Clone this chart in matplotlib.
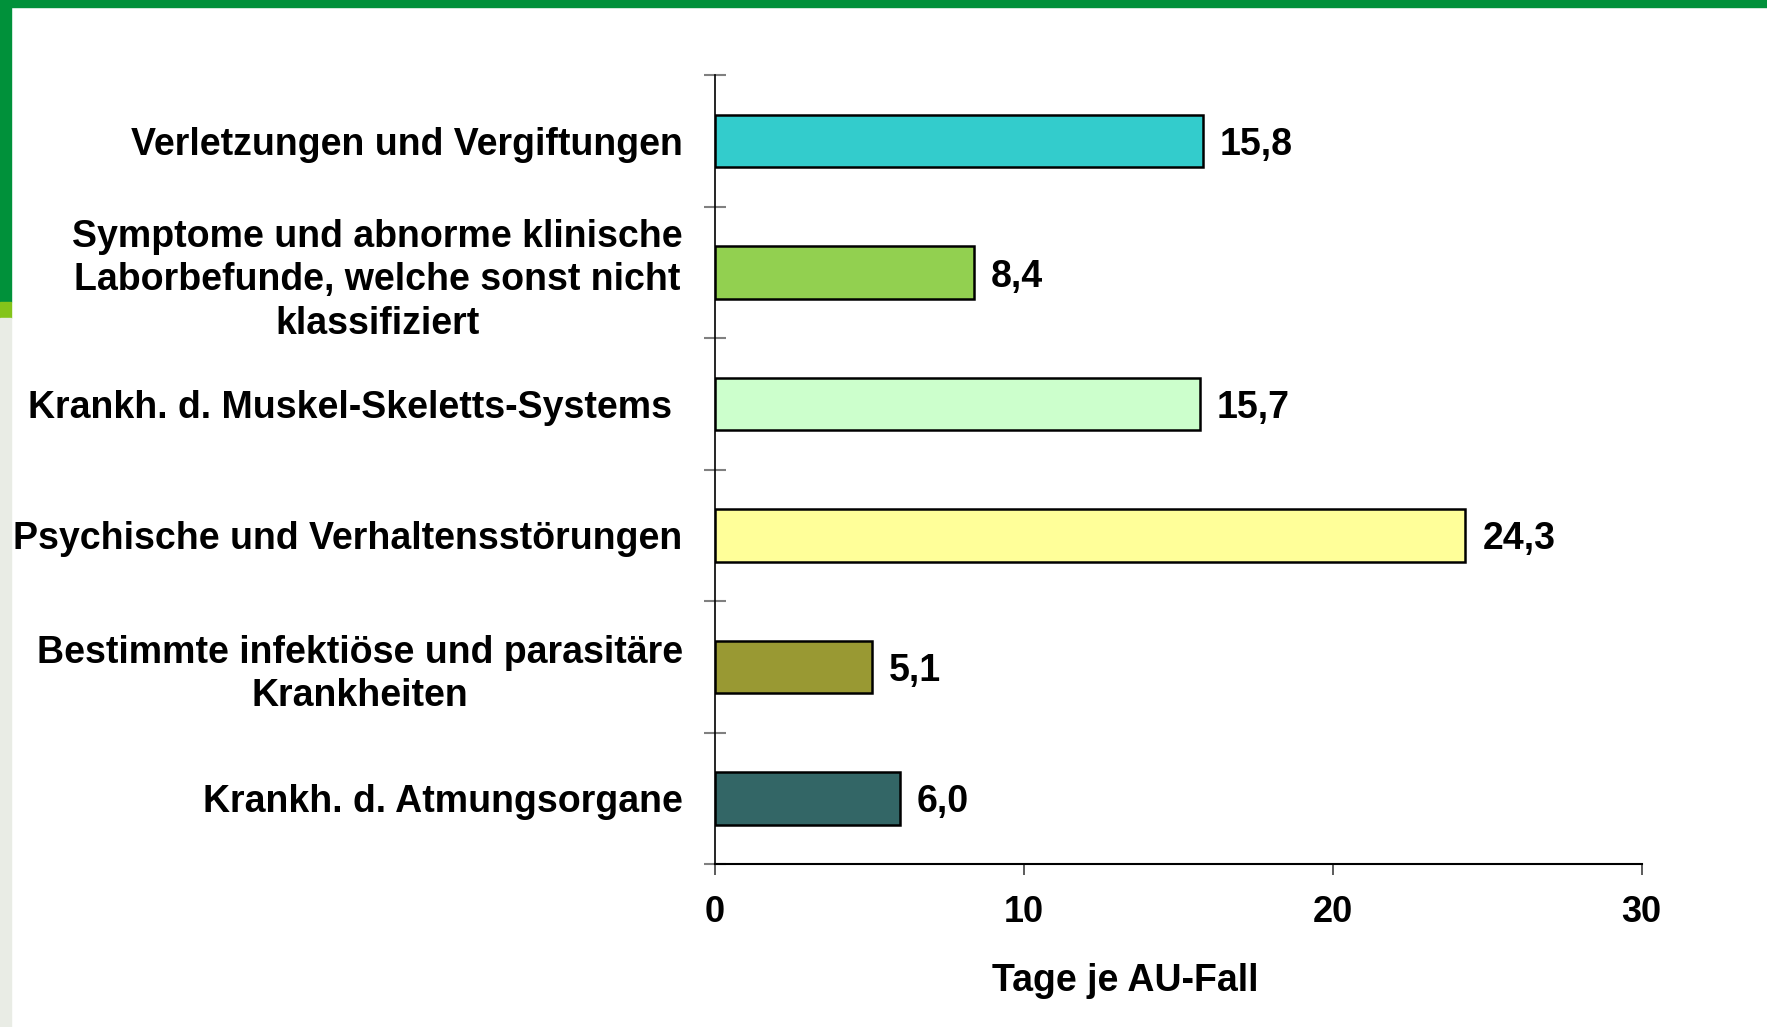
import numpy as np
import matplotlib
matplotlib.use("Agg")
import matplotlib.pyplot as plt
from matplotlib.patches import Rectangle

plt.rcParams['font.family'] = ['Liberation Sans', 'DejaVu Sans']
plt.rcParams['font.weight'] = 'bold'

categories = [
    "Verletzungen und Vergiftungen",
    "Symptome und abnorme klinische\nLaborbefunde, welche sonst nicht\nklassifiziert",
    "Krankh. d. Muskel-Skeletts-Systems ",
    "Psychische und Verhaltensstörungen",
    "Bestimmte infektiöse und parasitäre\nKrankheiten",
    "Krankh. d. Atmungsorgane",
]
values = [15.8, 8.4, 15.7, 24.3, 5.1, 6.0]
value_labels = ["15,8", "8,4", "15,7", "24,3", "5,1", "6,0"]
bar_colors = ["#33CCCC", "#92D050", "#CCFFCC", "#FFFF99", "#999933", "#336666"]
x_ticks = [0, 10, 20, 30]
x_label = "Tage je AU-Fall"

fig = plt.figure(figsize=(17.67, 10.27), dpi=100)

# frame decoration (green top band, left stripe)
fig.patches.append(Rectangle((0, 1 - 7 / 1027), 1, 7 / 1027, transform=fig.transFigure,
                             color="#00913A", zorder=0))
fig.patches.append(Rectangle((0, 1 - 302 / 1027), 11 / 1767, 302 / 1027, transform=fig.transFigure,
                             color="#00913A", zorder=0))
fig.patches.append(Rectangle((0, 1 - 318 / 1027), 11 / 1767, 16 / 1027, transform=fig.transFigure,
                             color="#84C41A", zorder=0))
fig.patches.append(Rectangle((0, 0), 11 / 1767, 1 - 318 / 1027, transform=fig.transFigure,
                             color="#E9ECE5", zorder=0))

ax = fig.add_axes([0.4044, 0.1587, 0.929 - 0.4044, 0.9265 - 0.1587])

y = np.arange(len(categories))
ax.barh(y, values, height=0.4, color=bar_colors, edgecolor="black", linewidth=1.8, zorder=3)
for yi, v, lab in zip(y, values, value_labels):
    ax.text(v + 0.55, yi, lab, va="center_baseline", ha="left", fontsize=27, fontweight="bold")

ax.set_ylim(len(categories) - 0.5, -0.5)
ax.set_xlim(0, 30)

ax.set_yticks(y)
ax.set_yticklabels(categories, fontsize=27, fontweight="bold")
for t in ax.get_yticklabels():
    t.set_multialignment("center")
    t.set_linespacing(1.27)
ax.tick_params(axis="y", which="major", length=0, pad=23)
ax.set_yticks(np.arange(-0.5, len(categories)), minor=True)
ax.tick_params(axis="y", which="minor", length=16, direction="inout", color="#808080", width=1.5)

ax.set_xticks(x_ticks)
ax.set_xticklabels([str(t) for t in x_ticks], fontsize=26, fontweight="bold")
ax.tick_params(axis="x", length=8, width=1.2, color="#404040", pad=14)

for s in ["top", "right"]:
    ax.spines[s].set_visible(False)
ax.spines["left"].set_linewidth(1.2)
ax.spines["bottom"].set_linewidth(1.5)

fig.text(1125 / 1767, 1 - 981 / 1027, x_label, ha="center", va="center", fontsize=27, fontweight="bold")

fig.savefig("out.png", dpi=100)
